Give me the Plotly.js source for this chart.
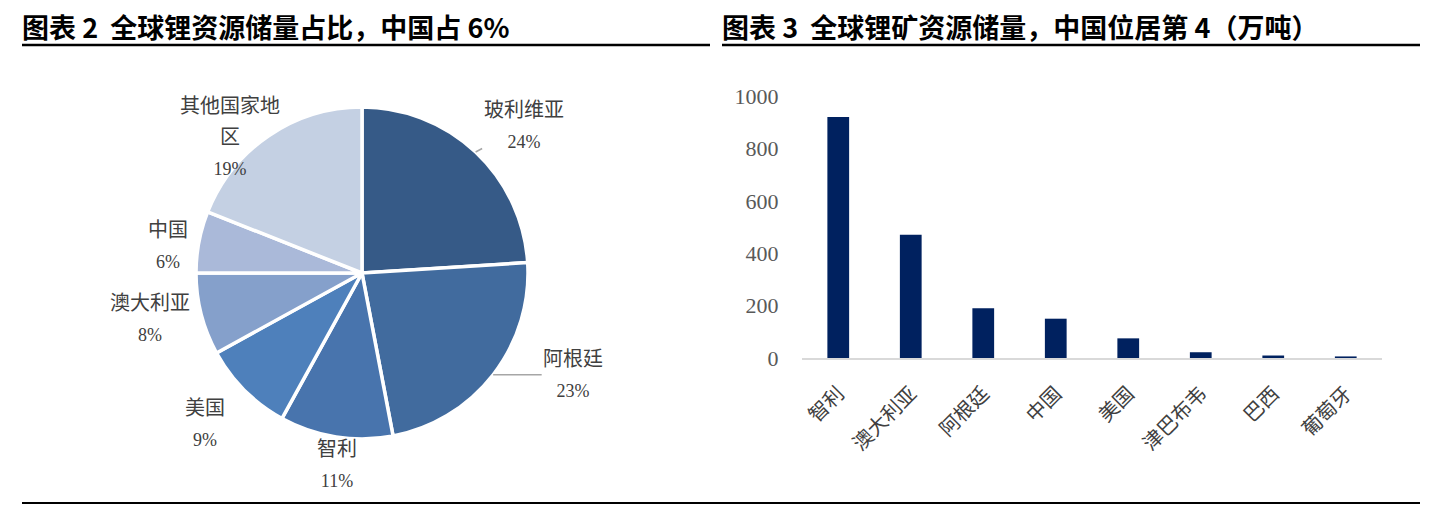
<!DOCTYPE html>
<html>
<head>
<meta charset="utf-8">
<script src="https://cdn.plot.ly/plotly-3.0.1.min.js"></script>
<style>html,body{margin:0;padding:0;background:#fff;}#chart{width:1440px;height:510px;}</style>
</head>
<body>
<div id="chart"></div>
<script>
// ---- data ----
const pieLabels = ['玻利维亚', '阿根廷', '智利', '美国', '澳大利亚', '中国', '其他国家地区'];
const pieDisplay = ['玻利维亚', '阿根廷', '智利', '美国', '澳大利亚', '中国', '其他国家地<br>区'];
const pieValues = [24, 23, 11, 9, 8, 6, 19];
const pieColors = ['#365a87', '#416b9e', '#4874ad', '#4e80bb', '#85a0cb', '#aab9d9', '#c4d0e3'];

const barCategories = ['智利', '澳大利亚', '阿根廷', '中国', '美国', '津巴布韦', '巴西', '葡萄牙'];
const barValues = [920, 470, 190, 150, 75, 22, 9.5, 6];
const yTicks = [0, 200, 400, 600, 800, 1000];

const title1 = '图表 2  全球锂资源储量占比，中国占 6%';
const title2 = '图表 3  全球锂矿资源储量，中国位居第 4（万吨）';

// ---- layout constants ----
const W = 1440, H = 510;
const pieCx = 362, pieCy = 273, pieR = 166;
const pieDomX = [(pieCx - pieR) / W, (pieCx + pieR) / W];
const pieDomY = [(H - pieCy - pieR) / H, (H - pieCy + pieR) / H];
// label offsets (pixels) from the rim point at each slice's middle angle
const labelOffsets = [[48, -26], [80, 0], [1, 28], [-40, 33], [-51, 4], [-31, 4], [-39, 1]];
const leaderLine = [true, true, false, false, false, false, false];

const total = pieValues.reduce((a, b) => a + b, 0);
const annotations = [];
let cum = 0;
pieValues.forEach((v, i) => {
  const midFrac = (cum + v / 2) / total;
  cum += v;
  const ang = Math.PI / 2 - midFrac * 2 * Math.PI; // clockwise from 12 o'clock
  const px = pieCx + pieR * Math.cos(ang);
  const py = pieCy - pieR * Math.sin(ang);
  const pct = Math.round(v / total * 100) + '%';
  const nameLines = pieDisplay[i].split('<br>').map(l => '<span style="font-size:20px">' + l + '</span>');
  const txt = nameLines.concat(['<span style="font-size:18px">' + pct + '</span>']).join('<br>');
  annotations.push({
    xref: 'paper', yref: 'paper', x: px / W, y: (H - py) / H,
    ax: labelOffsets[i][0], ay: labelOffsets[i][1],
    showarrow: true, arrowhead: 0, arrowwidth: 1.5, standoff: 0,
    arrowcolor: leaderLine[i] ? '#a6a6a6' : 'rgba(0,0,0,0)',
    text: txt, align: 'center',
    font: {family: 'Liberation Serif, "Noto Sans CJK SC", serif', size: 24, color: '#404040'}
  });
});

annotations.push({
  xref: 'paper', yref: 'paper', x: 20 / W, y: (H - 26) / H, xanchor: 'left', yanchor: 'middle',
  showarrow: false, text: '<b>' + title1 + '</b>',
  font: {family: '"Noto Sans CJK SC", sans-serif', size: 27, color: '#000'}
});
annotations.push({
  xref: 'paper', yref: 'paper', x: 720 / W, y: (H - 26) / H, xanchor: 'left', yanchor: 'middle',
  showarrow: false, text: '<b>' + title2 + '</b>',
  font: {family: '"Noto Sans CJK SC", sans-serif', size: 27, color: '#000'}
});

const traces = [
  {
    type: 'pie', labels: pieLabels, values: pieValues, sort: false, direction: 'clockwise',
    rotation: 0, textinfo: 'none', hoverinfo: 'label+percent',
    marker: {colors: pieColors, line: {color: '#ffffff', width: 3.5}},
    domain: {x: pieDomX, y: pieDomY}, showlegend: false
  },
  {
    type: 'bar', x: barCategories, y: barValues, xaxis: 'x', yaxis: 'y',
    marker: {color: '#00215f'}, showlegend: false
  }
];

const layout = {
  width: W, height: H,
  margin: {l: 0, r: 0, t: 0, b: 0},
  paper_bgcolor: '#fff', plot_bgcolor: 'rgba(0,0,0,0)',
  bargap: 0.70,
  xaxis: {
    domain: [802 / W, 1382 / W], anchor: 'y',
    showline: true, linecolor: '#d9d9d9', linewidth: 2,
    showgrid: false, zeroline: false, tickangle: -45,
    ticks: 'outside', ticklen: 14, tickcolor: 'rgba(0,0,0,0)',
    tickfont: {family: '"Noto Sans CJK SC", serif', size: 20, color: '#404040'}
  },
  yaxis: {
    domain: [(H - 358) / H, (H - 96) / H], anchor: 'x',
    range: [0, 1000], tickvals: yTicks, ticktext: yTicks.map(String),
    showline: false, showgrid: false, zeroline: false,
    ticks: 'outside', ticklen: 18, tickcolor: 'rgba(0,0,0,0)',
    tickfont: {family: 'Liberation Serif, serif', size: 22, color: '#595959'}
  },
  annotations: annotations,
  shapes: [
    {type: 'line', xref: 'paper', yref: 'paper', x0: 22 / W, x1: 710 / W, y0: (H - 45) / H, y1: (H - 45) / H, line: {color: '#000', width: 2.5}},
    {type: 'line', xref: 'paper', yref: 'paper', x0: 722 / W, x1: 1420 / W, y0: (H - 45) / H, y1: (H - 45) / H, line: {color: '#000', width: 2.5}},
    {type: 'line', xref: 'paper', yref: 'paper', x0: 22 / W, x1: 1420 / W, y0: (H - 503) / H, y1: (H - 503) / H, line: {color: '#000', width: 2}}
  ]
};

Plotly.newPlot('chart', traces, layout, {displayModeBar: false, staticPlot: true});
</script>
</body>
</html>
